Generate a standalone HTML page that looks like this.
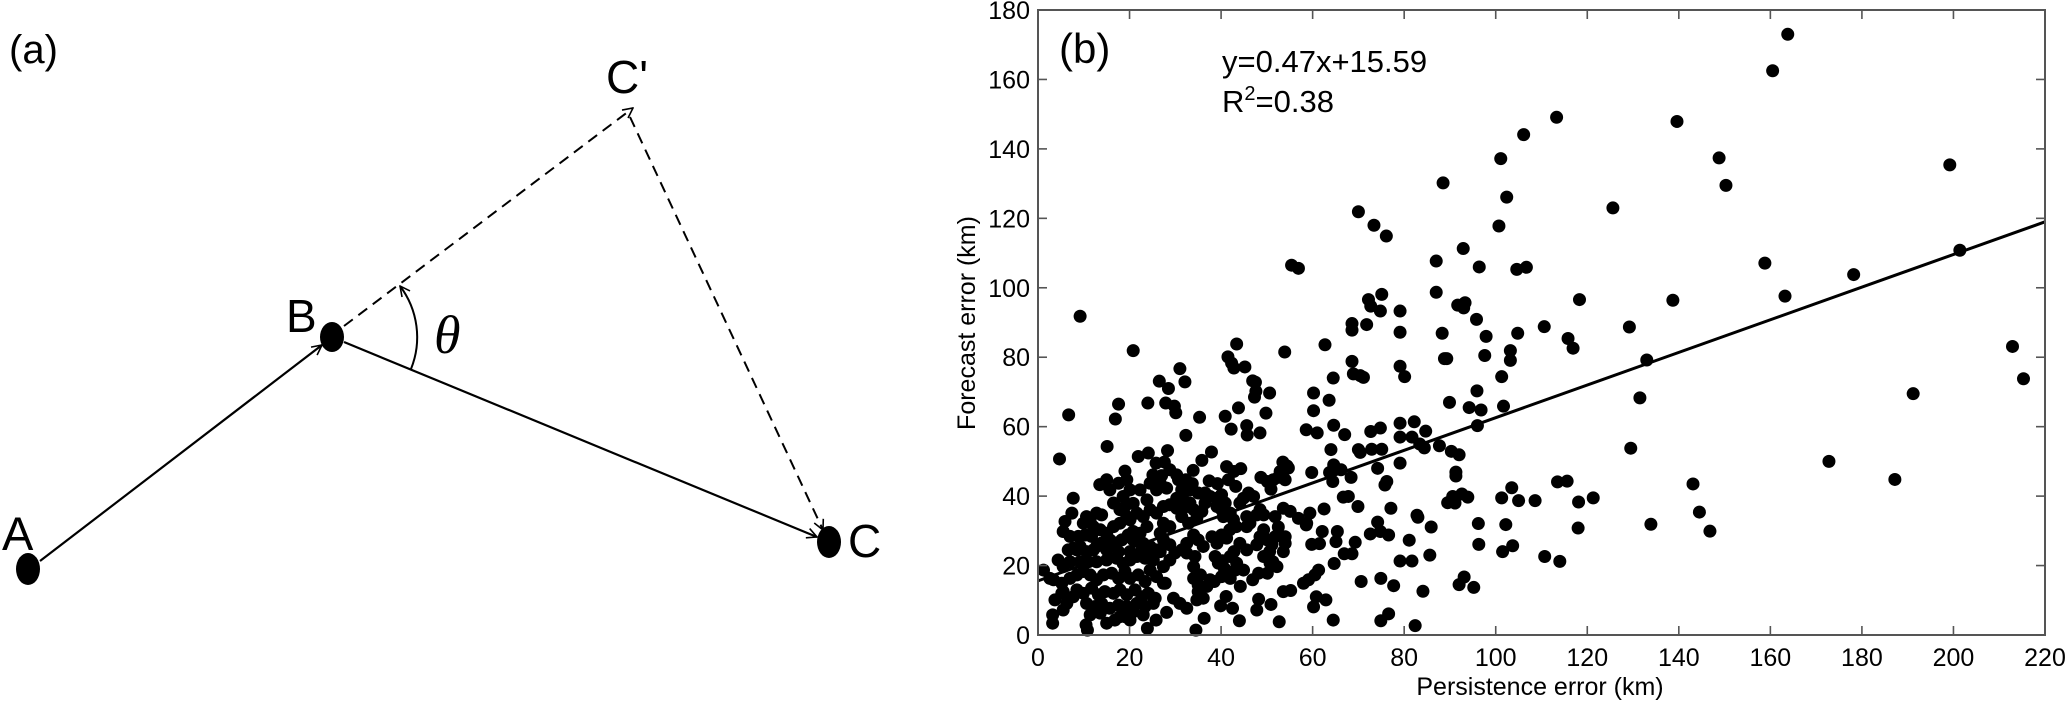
<!DOCTYPE html>
<html><head><meta charset="utf-8">
<style>
html,body{margin:0;padding:0;background:#fff;}
svg{display:block;font-family:"Liberation Sans",Arial,sans-serif;}
</style></head>
<body>
<svg id="fig" width="2067" height="702" viewBox="0 0 2067 702" xmlns="http://www.w3.org/2000/svg">
<defs>
<marker id="ah" viewBox="0 0 12 12" refX="11" refY="6" markerWidth="12" markerHeight="12" markerUnits="userSpaceOnUse" orient="auto">
<path d="M1,1 L11,6 L1,11" fill="none" stroke="#000" stroke-width="1.6"/>
</marker>
</defs>
<g id="panelA">
<text x="9" y="63" font-size="40">(a)</text>
<line x1="40" y1="561" x2="322" y2="345" stroke="#000" stroke-width="2.2" marker-end="url(#ah)"/>
<line x1="344" y1="342" x2="817" y2="537" stroke="#000" stroke-width="2.2" marker-end="url(#ah)"/>
<line x1="344" y1="326" x2="633" y2="108" stroke="#000" stroke-width="2" stroke-dasharray="11,7" marker-end="url(#ah)"/>
<line x1="630" y1="117" x2="823" y2="530" stroke="#000" stroke-width="2" stroke-dasharray="11,7" marker-end="url(#ah)"/>
<path d="M411,369 A85,85 0 0 0 400,286" fill="none" stroke="#000" stroke-width="2" marker-end="url(#ah)"/>
<ellipse cx="28" cy="569" rx="12" ry="16" fill="#000"/>
<ellipse cx="332" cy="337" rx="12" ry="15" fill="#000"/>
<ellipse cx="829" cy="542" rx="12" ry="16" fill="#000"/>
<text x="2" y="550" font-size="47">A</text>
<text x="286" y="332" font-size="46">B</text>
<text x="848" y="557" font-size="46">C</text>
<text x="606" y="93" font-size="46">C'</text>
<text x="434" y="353" font-size="54" font-style="italic" font-family="Liberation Serif,serif">θ</text>
</g>
<g id="panelB"></g>
</svg>
<script>
const xTicks = [0,20,40,60,80,100,120,140,160,180,200,220];
const yTicks = [0,20,40,60,80,100,120,140,160,180];
const fitSlope = 0.47;
const fitIntercept = 15.59;
const errPairs = [
[113.3,149.1],[106.1,144.1],[101.1,137.2],[139.6,147.9],[148.8,137.4],[150.3,129.5],[88.5,130.2],[102.4,126.1],[125.6,123.0],[100.7,117.8],
[92.9,111.3],[87.0,107.7],[96.4,106.0],[104.6,105.3],[106.7,105.9],[158.8,107.1],[87.0,98.7],[91.7,95.0],[93.3,95.7],[93.0,94.2],
[118.3,96.6],[138.7,96.4],[163.2,97.6],[95.8,90.9],[110.6,88.8],[129.2,88.7],[88.3,86.9],[97.9,86.0],[104.8,86.9],[115.8,85.4],
[116.9,82.6],[103.2,81.9],[103.2,79.1],[88.8,79.6],[89.3,79.6],[97.6,80.5],[133.0,79.2],[79.1,93.3],[79.1,87.2],[79.1,77.4],
[80.1,74.4],[101.3,74.4],[95.9,70.3],[131.5,68.3],[89.9,67.0],[94.2,65.5],[96.8,64.8],[101.7,65.9],[96.0,60.3],[79.1,61.0],
[82.2,61.4],[84.7,58.7],[79.1,57.0],[81.7,57.0],[83.4,55.0],[84.4,53.9],[87.7,54.5],[129.5,53.8],[79.1,49.5],[90.3,52.9],
[92.0,51.9],[91.3,46.9],[91.3,45.8],[113.5,44.1],[115.6,44.3],[103.5,42.4],[143.1,43.5],[89.5,38.1],[90.6,39.9],[91.1,38.0],
[92.6,40.6],[93.9,39.7],[101.3,39.5],[105.0,38.7],[108.6,38.7],[118.1,38.3],[121.3,39.5],[144.5,35.4],[82.8,34.5],[83.0,33.9],
[85.9,31.1],[96.2,32.1],[102.2,31.8],[118.0,30.8],[133.9,31.9],[146.8,29.9],[81.1,27.3],[96.3,26.1],[101.5,24.0],[103.7,25.7],
[79.1,21.3],[81.7,21.3],[85.6,23.0],[110.7,22.6],[114.0,21.2],[93.1,16.7],[92.0,14.5],[95.2,13.7],[84.1,12.6],[82.4,2.7],
[163.8,173.0],[160.5,162.5],[199.2,135.4],[201.4,110.8],[178.2,103.8],[212.9,83.1],[215.3,73.8],[191.2,69.5],[172.8,50.0],[187.2,44.8],
[70.0,121.9],[73.4,118.0],[76.1,114.9],
[55.4,106.5],[56.9,105.6],[9.2,91.8],[20.8,81.9],[43.4,83.8],[41.5,80.1],[42.3,78.3],[42.8,76.9],[45.2,77.2],[31.0,76.7],
[26.5,73.1],[28.5,71.0],[32.1,72.9],[46.9,73.2],[47.5,72.8],[47.6,70.2],[47.3,68.5],[50.6,69.7],[53.9,81.5],[62.7,83.6],
[68.6,89.7],[68.6,87.8],[71.8,89.4],[72.2,96.6],[72.7,94.7],[75.1,98.1],[74.8,93.3],[68.6,78.8],[68.9,75.2],[70.4,74.7],
[71.1,74.2],[64.5,74.0],[60.2,69.7],[63.6,67.6],[60.2,64.6],[61.0,58.2],[64.6,60.4],[67.0,57.7],[58.6,59.1],[49.8,63.9],
[43.8,65.4],[40.9,63.0],[42.2,59.3],[45.6,60.3],[45.7,57.6],[48.5,58.2],[35.3,62.7],[32.3,57.5],[29.8,65.9],[30.1,64.0],
[27.9,66.8],[24.0,66.8],[17.6,66.5],[16.9,62.2],[6.7,63.4],[15.1,54.3],[4.7,50.7],[21.9,51.4],[24.1,52.4],[28.3,53.1],
[25.8,49.5],[27.6,49.8],[37.9,52.7],[35.8,50.3],[19.0,47.2],[25.1,46.1],[27.0,45.9],[30.3,46.1],[32.3,44.7],[33.9,47.4],
[33.7,43.6],[37.4,44.4],[39.2,43.6],[36.5,40.9],[41.2,48.5],[42.8,47.1],[44.3,47.9],[41.6,44.7],[43.2,42.8],[48.7,45.4],
[50.1,44.2],[50.9,42.0],[52.5,45.4],[53.5,49.8],[54.7,48.1],[54.0,44.7],[59.8,46.8],[64.0,53.4],[64.6,49.0],[66.2,47.6],
[64.4,44.2],[63.7,46.8],[68.4,45.4],[70.0,53.4],[70.4,52.6],[72.9,53.5],[75.1,53.5],[72.7,58.6],[74.8,59.6],[74.2,48.0],
[76.2,44.2],[75.8,43.2],[66.7,39.7],[67.8,39.9],[69.9,37.0],[62.5,36.3],[59.4,35.1],[58.7,32.2],[77.1,36.5],[74.2,32.5],
[74.8,29.8],[76.6,28.8],[72.6,29.1],[69.3,26.7],[66.9,23.4],[68.6,23.4],[64.7,20.6],[62.1,29.8],[65.4,29.8],[65.1,26.9],
[59.8,26.1],[61.5,26.3],[61.3,18.7],[60.5,17.3],[59.1,15.9],[58.0,14.9],[60.8,11.0],[60.2,8.1],[62.9,10.1],[64.5,4.3],
[70.6,15.4],[74.9,16.3],[77.7,14.2],[74.9,4.1],[76.6,6.1],[52.7,3.8],[44.0,4.1],[42.5,7.7],[39.9,8.4],[44.2,14.0],
[47.8,7.2],[50.9,8.8],[48.2,10.3],[53.6,12.5],[55.2,12.8],[46.9,15.9],[48.2,17.8],[50.1,17.8],[52.2,19.7],[50.7,20.7],
[36.3,4.8],[34.5,1.4],[28.1,6.5],[25.8,4.3],[23.9,1.9],[10.5,2.9],[10.8,1.4],[3.2,3.4],[3.2,5.8],[5.5,7.2],
[5.5,12.5],[1.2,18.7],[2.6,16.3],[15.0,3.4],[16.8,4.3],[19.0,5.3],[20.8,6.7],[41.1,11.1],[36.1,10.6],[34.7,10.1],
[35.0,14.4],[37.6,15.9],[38.5,15.4],[40.1,16.8],[41.6,16.8],[43.1,18.7],[42.0,16.3],[39.4,20.7],[40.7,19.2],[38.7,22.6],
[40.3,21.4],[34.0,19.7],[35.5,17.3],[34.0,16.3],[35.0,12.5],[32.5,7.7],[31.0,9.1],[29.6,10.6],[27.8,14.9],[36.9,14.0],
[42.8,24.0],[45.6,24.5],[44.1,26.4],[43.3,31.2],[45.6,31.2],[47.8,26.0],[48.5,28.3],[49.3,30.3],[50.1,27.4],[50.6,24.0],
[51.3,21.1],[49.3,22.6],[51.1,26.0],[51.8,28.3],[49.3,34.6],[48.5,36.1],[47.8,34.6],[51.8,34.1],[53.6,36.5],[55.1,35.6],
[56.9,33.6],[58.6,31.7],[52.5,31.1],[54.0,28.3],[54.0,26.4],[53.6,24.0],[51.4,44.7],[52.9,47.1],[54.4,48.7],[40.5,34.1],
[40.1,36.1],[40.9,38.0],[39.1,39.4],[40.1,40.4],[37.6,39.9],[36.5,38.0],[38.0,28.3],[40.1,28.8],[41.2,27.9],[39.1,26.4],
[41.9,30.3],[32.5,37.0],[34.0,36.1],[35.8,35.6],[34.7,33.7],[32.9,32.2],[31.4,34.1],[30.3,36.5],[28.8,37.5],[27.4,37.0],
[30.3,39.4],[31.8,38.9],[33.2,38.0],[34.0,28.8],[35.0,27.4],[36.1,25.5],[32.5,26.4],[31.4,24.5],[32.5,23.6],[34.3,22.6],
[27.4,32.2],[28.8,31.2],[26.7,29.3],[27.4,27.4],[28.8,26.0],[29.9,23.6],[28.8,21.6],[27.4,19.7],[25.9,24.5],[25.2,21.6],
[24.5,18.7],[25.9,16.8],[27.4,14.9],[23.8,31.2],[22.3,29.3],[20.8,27.4],[23.0,26.4],[24.5,25.5],[20.1,33.2],[21.6,35.1],
[23.0,34.1],[24.5,36.1],[25.9,35.1],[16.5,38.0],[17.9,36.1],[19.4,34.1],[18.6,39.9],[15.7,41.8],[17.6,43.7],[19.4,44.7],
[20.1,41.8],[19.0,37.0],[13.5,43.3],[15.0,44.7],[12.8,35.1],[13.9,34.6],[11.4,32.7],[9.9,32.2],[7.7,39.4],[7.4,35.1],
[5.9,32.7],[5.5,29.8],[7.0,28.4],[8.8,28.4],[10.3,28.8],[11.7,28.4],[6.6,24.5],[7.7,25.0],[9.2,25.5],[10.6,24.0],
[12.8,25.5],[13.9,26.5],[15.7,27.4],[16.8,26.5],[18.3,27.4],[19.7,28.8],[20.8,29.8],[4.4,21.6],[5.5,19.7],[7.0,21.1],
[9.2,21.1],[11.0,21.1],[12.8,21.1],[15.0,21.6],[17.2,22.1],[18.6,20.6],[20.1,21.6],[21.6,22.6],[23.4,22.1],[3.4,15.9],
[5.2,14.9],[7.0,16.3],[8.5,17.3],[9.9,18.3],[11.4,17.3],[12.8,15.9],[14.3,17.3],[16.1,17.8],[17.6,16.3],[19.0,18.3],
[20.1,16.3],[21.9,17.3],[23.4,15.4],[8.5,13.0],[9.9,12.0],[11.7,13.5],[13.2,11.6],[14.6,12.5],[16.5,12.0],[17.9,13.0],
[19.4,11.6],[21.2,13.0],[22.7,11.0],[24.1,12.0],[25.6,10.6],[10.6,9.1],[12.5,8.2],[13.9,9.1],[15.7,7.7],[17.6,8.6],
[19.4,8.2],[21.6,9.1],[23.4,8.2],[25.2,9.1],[11.4,5.8],[13.6,6.3],[17.9,5.3],[20.1,4.3],[23.0,5.8],[5.2,12.0],
[3.7,10.1],[6.3,9.1],[7.7,11.0],[8.5,24.5],[12.1,24.5],[15.0,24.5],[17.6,24.0],[20.1,24.0],[22.7,24.5],[24.8,23.6],
[26.7,24.0],[24.5,43.7],[25.9,41.8],[22.3,41.8],[23.8,38.9],[20.8,37.9],[26.7,43.7],[28.1,42.3],[28.8,47.6],[30.7,44.7],
[31.4,41.8],[33.2,41.8],[35.0,40.9],[10.6,34.1],[12.1,31.2],[13.6,30.3],[15.0,29.3],[16.5,31.2],[17.9,32.2],[43.4,20.7],
[44.9,18.7],[42.0,22.6],[39.1,37.0],[42.0,35.1],[42.7,33.2],[45.6,34.1],[46.3,32.2],[44.1,38.0],[44.9,39.4],[46.0,40.9],
[47.1,39.9]
];

const svg = document.getElementById('panelB');
const NS = 'http://www.w3.org/2000/svg';
const X0 = 1038, X1 = 2045, Y0 = 635, Y1 = 10;
const xMin = 0, xMax = 220, yMin = 0, yMax = 180;
function sx(v){ return X0 + (v - xMin) / (xMax - xMin) * (X1 - X0); }
function sy(v){ return Y0 - (v - yMin) / (yMax - yMin) * (Y0 - Y1); }
function mk(tag, attrs){ const e = document.createElementNS(NS, tag); for (const k in attrs) e.setAttribute(k, attrs[k]); svg.appendChild(e); return e; }

errPairs.forEach(function(p){
  const c = mk('circle', {cx: sx(p[0]), cy: sy(p[1]), r: 6.5, fill: '#000'});
  
  
});

const fit = mk('line', {x1: sx(xMin), y1: sy(fitSlope*xMin+fitIntercept), x2: sx(xMax), y2: sy(fitSlope*xMax+fitIntercept), stroke: '#000', 'stroke-width': 3});



const box = mk('rect', {x: X0, y: Y1, width: X1 - X0, height: Y0 - Y1, fill: 'none', stroke: '#555', 'stroke-width': 2});



xTicks.forEach(function(t){
  const x = sx(t);
  const a = mk('line', {x1: x, y1: Y0, x2: x, y2: Y0 - 9, stroke: '#555', 'stroke-width': 1.6});
  
  
  const b = mk('line', {x1: x, y1: Y1, x2: x, y2: Y1 + 9, stroke: '#555', 'stroke-width': 1.6});
  
  
  const tx = mk('text', {x: x, y: 666, 'font-size': 25, 'text-anchor': 'middle', fill: '#000'});
  tx.textContent = String(t);
  
  
});
yTicks.forEach(function(t){
  const y = sy(t);
  const a = mk('line', {x1: X0, y1: y, x2: X0 + 9, y2: y, stroke: '#555', 'stroke-width': 1.6});
  
  
  const b = mk('line', {x1: X1, y1: y, x2: X1 - 9, y2: y, stroke: '#555', 'stroke-width': 1.6});
  
  
  const tx = mk('text', {x: 1030, y: y + 9, 'font-size': 25, 'text-anchor': 'end', fill: '#000'});
  tx.textContent = String(t);
  
  
});

const xl = mk('text', {x: 1540, y: 695, 'font-size': 25, 'text-anchor': 'middle'});
xl.textContent = 'Persistence error (km)';


const yl = mk('text', {x: 0, y: 0, 'font-size': 25, 'text-anchor': 'middle', transform: 'translate(975,323) rotate(-90)'});
yl.textContent = 'Forecast error (km)';



const pb = mk('text', {x: 1059, y: 63, 'font-size': 42});
pb.textContent = '(b)';



const eq = mk('text', {x: 1222, y: 72, 'font-size': 31});
eq.textContent = 'y=0.47x+15.59';


const r2 = mk('text', {x: 1222, y: 112, 'font-size': 31});
r2.innerHTML = 'R<tspan dy="-12" font-size="20">2</tspan><tspan dy="12">=0.38</tspan>';


</script>
</body></html>
